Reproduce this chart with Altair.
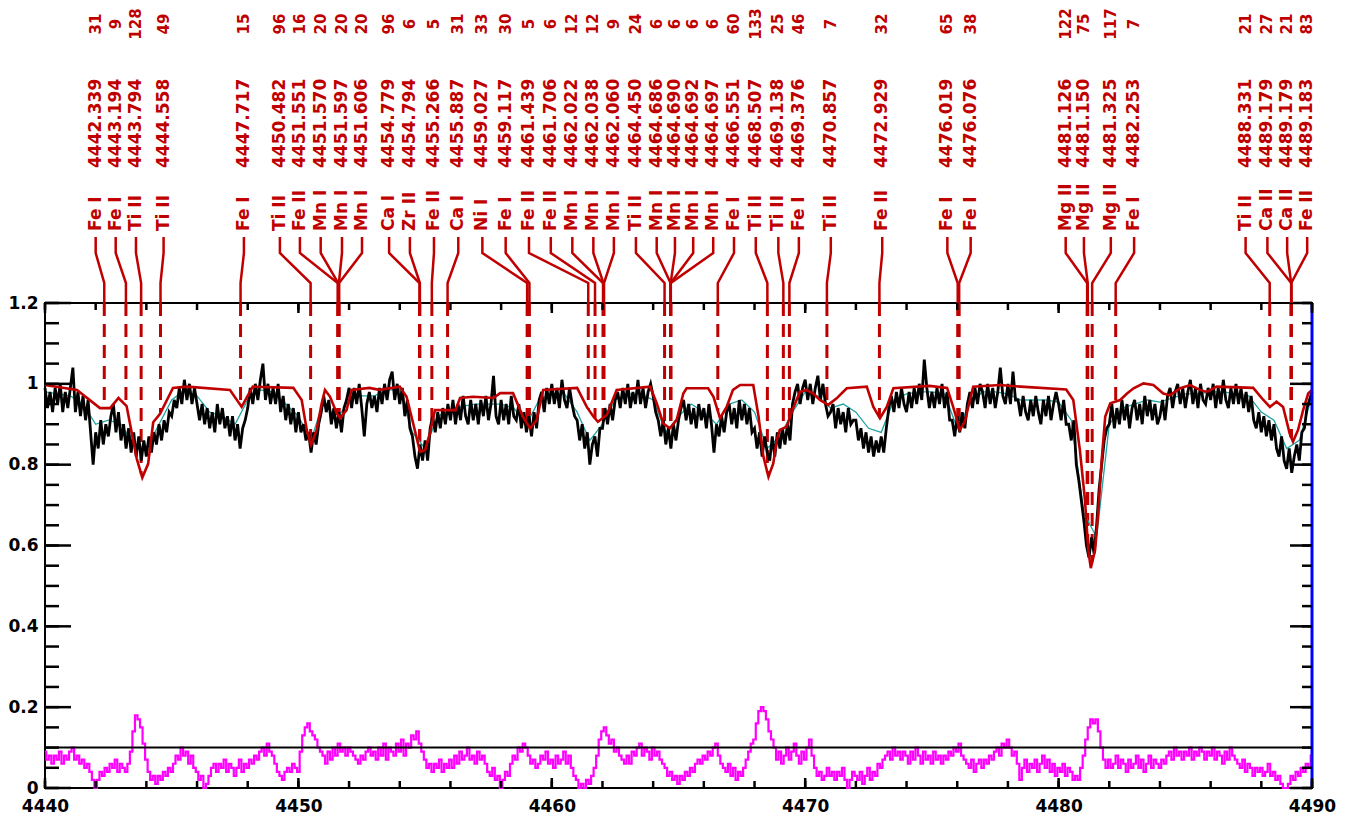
import altair as alt
import pandas as pd
import numpy as np

RED = "#c00000"
LAM0 = 4440.0
STEP = 0.1

# observed spectrum, 0.1 A sampling (4440.0 ... 4490.0)
obs = [
 0.99,0.94,0.98,0.93,0.99,0.95,1.00,0.93,0.98,0.94,
 0.99,1.04,0.93,0.98,0.92,0.97,0.91,0.96,0.88,0.80,
 0.88,0.84,0.91,0.85,0.90,0.87,0.92,0.95,0.88,0.93,
 0.86,0.90,0.84,0.89,0.83,0.88,0.82,0.87,0.81,0.86,
 0.82,0.87,0.83,0.88,0.85,0.90,0.86,0.91,0.88,0.93,
 0.92,0.96,0.94,0.99,0.95,1.01,0.96,1.00,0.95,0.99,
 0.95,0.91,0.95,0.90,0.94,0.89,0.93,0.88,0.95,0.90,
 0.94,0.89,0.92,0.87,0.92,0.86,0.90,0.84,0.89,0.91,
 0.94,0.99,0.95,1.00,0.96,1.01,1.05,0.96,1.00,0.95,
 0.99,0.95,1.00,0.93,0.97,0.91,0.95,0.90,0.94,0.88,
 0.93,0.88,0.90,0.86,0.88,0.83,0.88,0.85,0.90,0.93,
 0.97,0.93,0.96,0.90,0.94,0.89,0.93,0.88,0.94,0.96,
 0.99,0.94,0.99,0.95,1.00,0.94,0.87,0.95,0.98,0.94,
 0.97,0.93,0.99,0.95,1.00,0.96,1.01,1.03,0.96,1.00,
 0.95,0.99,0.92,0.96,0.89,0.87,0.82,0.79,0.85,0.81,
 0.86,0.81,0.89,0.92,0.88,0.93,0.89,0.94,0.90,0.95,
 0.91,0.96,0.90,0.95,0.91,0.97,0.92,0.90,0.96,0.91,
 0.95,0.90,0.96,0.92,0.97,0.91,0.95,1.02,0.92,0.90,
 0.96,0.91,0.95,0.90,0.97,0.92,0.91,0.95,0.89,0.93,
 0.88,0.92,0.87,0.93,0.89,0.96,0.98,0.93,0.99,0.95,
 1.00,0.95,0.99,0.94,1.01,0.96,0.94,0.99,0.95,0.92,
 0.91,0.86,0.90,0.84,0.88,0.80,0.85,0.87,0.82,0.89,
 0.89,0.94,0.90,0.95,0.91,0.96,0.98,0.94,0.99,0.95,
 1.00,0.94,0.98,0.95,1.01,0.95,0.99,0.94,0.98,1.00,
 0.97,0.93,0.91,0.87,0.91,0.85,0.89,0.84,0.90,0.86,
 0.91,0.94,0.96,0.91,0.95,0.90,0.94,0.89,0.95,0.91,
 0.94,0.89,0.95,0.90,0.83,0.90,0.87,0.92,0.88,0.93,
 0.95,0.90,0.94,0.89,0.96,0.91,0.95,0.90,0.94,0.88,
 0.89,0.84,0.88,0.82,0.87,0.83,0.81,0.87,0.82,0.88,
 0.84,0.89,0.85,0.90,0.86,0.95,0.98,1.00,0.95,0.99,
 1.01,0.96,1.00,0.95,0.99,1.02,0.96,1.00,0.95,0.92,
 0.93,0.95,0.89,0.94,0.90,0.93,0.88,0.94,0.90,0.91,
 0.91,0.86,0.89,0.84,0.88,0.83,0.87,0.82,0.86,0.83,
 0.87,0.83,0.89,0.94,0.97,0.93,0.98,0.94,0.99,0.95,
 0.93,0.98,0.94,0.99,0.95,1.00,0.96,1.06,0.99,0.94,
 0.98,0.94,0.99,0.95,1.00,0.94,0.98,0.91,0.91,0.87,
 0.92,0.88,0.93,0.89,0.95,0.98,0.94,0.99,0.95,1.00,
 0.98,0.94,1.00,0.95,0.99,0.94,0.98,1.04,0.97,0.95,
 1.00,0.95,1.03,0.96,0.96,0.92,0.97,0.93,0.91,0.96,
 0.92,0.97,0.93,0.90,0.96,0.92,0.97,0.91,0.95,0.98,
 0.95,0.91,0.96,0.90,0.90,0.86,0.91,0.80,0.76,0.71,
 0.66,0.60,0.57,0.62,0.58,0.65,0.74,0.80,0.86,0.89,
 0.90,0.95,0.89,0.94,0.90,0.96,0.91,0.95,0.89,0.94,
 0.96,0.91,0.95,0.90,0.97,0.92,0.96,0.91,0.95,0.90,
 0.92,0.96,0.91,0.97,0.99,0.94,0.98,1.00,0.95,0.99,
 0.94,0.98,1.01,0.95,0.99,0.94,1.00,0.96,0.95,0.99,
 0.96,1.00,0.94,0.99,0.95,1.01,0.96,0.94,0.99,0.95,
 1.00,0.95,0.99,0.94,0.98,0.93,0.97,0.91,0.89,0.93,
 0.88,0.92,0.87,0.91,0.86,0.90,0.84,0.82,0.87,0.81,
 0.79,0.84,0.78,0.82,0.85,0.81,0.88,0.89,0.94,0.96,
 0.98,
]

# residual (magenta), same sampling
resid = [
 0.09,0.07,0.08,0.06,0.08,0.07,0.09,0.06,0.08,0.07,
 0.09,0.10,0.07,0.08,0.06,0.07,0.05,0.06,0.04,0.02,
 0.00,0.02,0.04,0.03,0.05,0.04,0.06,0.05,0.07,0.04,
 0.06,0.05,0.04,0.06,0.09,0.14,0.18,0.17,0.15,0.11,
 0.07,0.04,0.02,0.03,0.01,0.03,0.02,0.04,0.03,0.05,
 0.04,0.06,0.08,0.07,0.10,0.08,0.09,0.06,0.08,0.05,
 0.04,0.02,0.03,0.00,0.01,0.03,0.05,0.06,0.04,0.06,
 0.05,0.07,0.04,0.06,0.05,0.03,0.05,0.07,0.04,0.06,
 0.05,0.07,0.06,0.08,0.07,0.09,0.10,0.08,0.11,0.09,
 0.08,0.06,0.04,0.03,0.02,0.04,0.05,0.04,0.06,0.05,
 0.04,0.09,0.13,0.15,0.16,0.14,0.13,0.12,0.10,0.09,
 0.08,0.06,0.09,0.07,0.10,0.08,0.11,0.09,0.10,0.08,
 0.10,0.09,0.08,0.07,0.06,0.08,0.07,0.09,0.10,0.08,
 0.09,0.07,0.10,0.08,0.11,0.07,0.10,0.09,0.08,0.11,
 0.09,0.12,0.08,0.11,0.10,0.13,0.12,0.14,0.11,0.09,
 0.07,0.05,0.06,0.04,0.06,0.05,0.07,0.04,0.06,0.05,
 0.07,0.05,0.08,0.06,0.09,0.07,0.08,0.10,0.07,0.08,
 0.06,0.09,0.07,0.08,0.06,0.04,0.03,0.05,0.02,0.03,
 0.00,0.02,0.04,0.03,0.06,0.08,0.07,0.10,0.09,0.11,
 0.10,0.08,0.06,0.07,0.05,0.06,0.08,0.07,0.09,0.06,
 0.07,0.05,0.08,0.06,0.07,0.09,0.06,0.08,0.05,0.03,
 0.02,0.00,0.01,0.00,0.02,0.01,0.03,0.05,0.08,0.12,
 0.14,0.15,0.13,0.11,0.12,0.09,0.10,0.08,0.07,0.06,
 0.08,0.06,0.09,0.08,0.10,0.11,0.08,0.10,0.09,0.07,
 0.10,0.08,0.09,0.07,0.06,0.05,0.03,0.04,0.02,0.03,
 0.01,0.03,0.02,0.04,0.03,0.05,0.04,0.06,0.07,0.06,
 0.08,0.07,0.09,0.08,0.10,0.11,0.08,0.06,0.05,0.04,
 0.06,0.03,0.05,0.02,0.04,0.03,0.05,0.07,0.09,0.11,
 0.12,0.16,0.19,0.20,0.19,0.17,0.14,0.12,0.10,0.07,
 0.09,0.06,0.08,0.10,0.07,0.09,0.11,0.08,0.06,0.09,
 0.07,0.10,0.12,0.08,0.05,0.03,0.04,0.02,0.03,0.05,
 0.03,0.04,0.02,0.04,0.03,0.05,0.02,0.00,0.02,0.04,
 0.03,0.02,0.04,0.01,0.03,0.05,0.02,0.04,0.03,0.06,
 0.05,0.07,0.08,0.09,0.07,0.10,0.08,0.09,0.07,0.09,
 0.08,0.06,0.09,0.07,0.10,0.08,0.06,0.09,0.07,0.08,
 0.06,0.09,0.07,0.08,0.06,0.08,0.07,0.09,0.08,0.10,
 0.09,0.11,0.08,0.07,0.06,0.05,0.07,0.04,0.06,0.07,
 0.05,0.07,0.06,0.08,0.07,0.09,0.10,0.08,0.11,0.10,
 0.12,0.10,0.08,0.09,0.06,0.02,0.05,0.07,0.04,0.06,
 0.05,0.07,0.04,0.06,0.08,0.05,0.07,0.04,0.06,0.03,
 0.05,0.04,0.06,0.03,0.05,0.04,0.02,0.03,0.02,0.05,
 0.08,0.12,0.15,0.17,0.16,0.17,0.14,0.10,0.07,0.05,
 0.07,0.05,0.06,0.08,0.05,0.07,0.06,0.04,0.07,0.05,
 0.06,0.08,0.05,0.07,0.04,0.06,0.08,0.05,0.07,0.06,
 0.05,0.07,0.06,0.08,0.09,0.07,0.10,0.08,0.09,0.07,
 0.09,0.08,0.10,0.07,0.09,0.08,0.10,0.09,0.07,0.09,
 0.08,0.10,0.07,0.09,0.08,0.06,0.09,0.07,0.10,0.08,
 0.07,0.06,0.05,0.07,0.04,0.06,0.05,0.03,0.05,0.04,
 0.05,0.03,0.04,0.06,0.03,0.04,0.02,0.03,0.01,0.00,
 0.00,0.01,0.03,0.02,0.04,0.03,0.05,0.04,0.06,0.05,
 0.08,
]

# second (cyan) fit, 0.5 A sampling
cyan = [
 0.98,0.975,0.97,0.95,0.90,0.91,0.90,0.85,0.84,0.90,
 0.96,0.985,0.97,0.93,0.92,0.90,0.96,0.985,0.98,0.95,
 0.92,0.86,0.96,0.91,0.96,0.97,0.97,0.985,0.985,0.88,
 0.84,0.92,0.935,0.945,0.95,0.95,0.95,0.94,0.90,0.96,
 0.975,0.975,0.93,0.86,0.90,0.96,0.975,0.975,0.96,0.88,
 0.92,0.95,0.93,0.90,0.95,0.96,0.93,0.84,0.87,0.93,
 0.98,0.97,0.94,0.95,0.93,0.89,0.88,0.96,0.975,0.98,
 0.98,0.975,0.89,0.95,0.98,0.98,0.975,0.96,0.96,0.96,
 0.955,0.91,0.68,0.62,0.90,0.94,0.95,0.96,0.955,0.965,
 0.975,0.975,0.98,0.98,0.975,0.97,0.93,0.91,0.84,0.86,
 0.97,
]

# synthetic (red) model, vertices
model_wl = [4440.0,4441.26,4442.17,4442.57,4442.9,4443.22,4443.62,4443.84,4444.07,4444.27,
 4444.54,4445.05,4445.6,4447.3,4447.76,4448.2,4449.8,4450.13,4450.33,4450.5,
 4450.72,4450.92,4451.05,4451.25,4451.51,4451.64,4451.9,4452.1,4452.8,4453.2,
 4454.0,4454.27,4454.53,4454.8,4455.0,4455.19,4455.39,4456.2,4456.38,4456.9,
 4457.7,4457.96,4458.47,4458.86,4459.14,4459.4,4459.66,4461.0,4461.38,4461.64,
 4461.82,4462.17,4462.56,4463.88,4464.14,4464.4,4464.66,4464.93,4465.19,4465.32,
 4466.17,4466.38,4466.64,4466.9,4467.15,4467.43,4467.95,4468.16,4468.35,4468.55,
 4468.74,4468.88,4469.0,4469.27,4469.47,4469.79,4470.05,4470.32,4470.58,4470.91,
 4471.24,4471.64,4472.43,4472.69,4472.95,4473.22,4473.48,4474.9,4475.6,4475.84,
 4476.1,4476.3,4476.5,4476.63,4477.69,4478.5,4480.3,4480.58,4480.84,4481.04,
 4481.17,4481.27,4481.44,4481.57,4481.7,4481.84,4482.04,4482.43,4482.7,4482.96,
 4483.35,4483.74,4484.13,4484.4,4484.8,4485.19,4485.58,4485.84,4486.24,4487.68,
 4488.08,4488.34,4488.6,4488.86,4489.12,4489.25,4489.45,4489.65,4489.85,4490.0]
model_flux = [0.997,0.985,0.94,0.94,0.965,0.945,0.815,0.768,0.802,0.905,
 0.926,0.99,0.993,0.985,0.943,0.993,0.99,0.96,0.886,0.849,
 0.886,0.952,0.985,0.968,0.928,0.915,0.935,0.985,0.99,0.985,
 0.993,0.968,0.902,0.832,0.836,0.878,0.935,0.935,0.965,0.968,
 0.965,0.977,0.977,0.919,0.89,0.91,0.985,0.99,0.943,0.919,
 0.906,0.923,0.985,0.993,0.952,0.902,0.89,0.911,0.976,0.989,
 0.989,0.968,0.915,0.943,0.985,0.997,0.997,0.919,0.82,0.77,
 0.803,0.861,0.886,0.894,0.931,0.98,0.985,0.976,0.96,0.948,
 0.964,0.989,0.993,0.943,0.915,0.943,0.989,0.995,0.99,0.943,
 0.886,0.906,0.96,0.993,0.997,0.993,0.986,0.96,0.836,0.713,
 0.589,0.544,0.589,0.688,0.811,0.919,0.952,0.96,0.976,0.989,
 1.001,0.997,0.976,0.972,0.989,0.997,0.985,0.98,0.993,0.99,
 0.96,0.943,0.956,0.943,0.877,0.857,0.886,0.935,0.976,0.985]

# line identifications
species = ["Fe I","Fe I","Ti II","Ti II","Fe I","Ti II","Fe II","Mn I","Mn I","Mn I",
 "Ca I","Zr II","Fe II","Ca I","Ni I","Fe I","Fe II","Fe II","Mn I","Mn I","Mn I",
 "Ti II","Mn I","Mn I","Mn I","Mn I","Fe I","Ti II","Ti II","Fe I","Ti II","Fe II",
 "Fe I","Fe I","Mg II","Mg II","Mg II","Fe I","Ti II","Ca II","Ca II","Fe II"]
wl_labels = ["4442.339","4443.194","4443.794","4444.558","4447.717","4450.482","4451.551",
 "4451.570","4451.597","4451.606","4454.779","4454.794","4455.266","4455.887","4459.027",
 "4459.117","4461.439","4461.706","4462.022","4462.038","4462.060","4464.450","4464.686",
 "4464.690","4464.692","4464.697","4466.551","4468.507","4469.138","4469.376","4470.857",
 "4472.929","4476.019","4476.076","4481.126","4481.150","4481.325","4482.253","4488.331",
 "4489.179","4489.179","4489.183"]
strength = ["31","9","128","49","15","96","16","20","20","20","96","6","5","31","33","30",
 "5","6","12","12","9","24","6","6","6","6","60","133","25","46","7","32","65","38",
 "122","75","117","7","21","27","21","83"]
label_pos = [4442.00,4442.79,4443.59,4444.68,4447.85,4449.27,4450.06,4450.88,4451.72,4452.51,
 4453.58,4454.40,4455.35,4456.31,4457.26,4458.18,4459.10,4459.96,4460.81,4461.64,4462.45,
 4463.32,4464.14,4464.86,4465.58,4466.37,4467.19,4468.05,4468.94,4469.75,4471.01,4473.04,
 4475.61,4476.53,4480.28,4481.00,4482.06,4482.98,4487.38,4488.24,4489.02,4489.81]

x_label_vals = [4440, 4450, 4460, 4470, 4480, 4490]
y_label_vals = [0, 0.2, 0.4, 0.6, 0.8, 1, 1.2]

W, H = 1267, 485

def above(px):
    return 1.2 + px * 1.2 / H

xs = alt.Scale(domain=[4440, 4490], nice=False, zero=False)
ys = alt.Scale(domain=[0, 1.2], nice=False, zero=False)
xaxis = alt.Axis(values=x_label_vals, format="d", title=None, labelFlush=False,
                 labelPadding=10, orient="bottom")
yaxis = alt.Axis(values=y_label_vals, format="~g", title=None, labelPadding=7, orient="left")

def X(f):
    return alt.X(f, type="quantitative", scale=xs, axis=xaxis)

def Y(f):
    return alt.Y(f, type="quantitative", scale=ys, axis=yaxis)

obs_df = pd.DataFrame({"lam": np.round(LAM0 + STEP * np.arange(len(obs)), 2), "flux": obs})
res_df = pd.DataFrame({"lam": np.round(LAM0 + STEP * np.arange(len(resid)), 2), "flux": resid})
cy_df = pd.DataFrame({"lam": np.round(LAM0 + 0.5 * np.arange(len(cyan)), 2), "flux": cyan})
mod_df = pd.DataFrame({"lam": model_wl, "flux": model_flux})

line_lam = [float(s) for s in wl_labels]
dash_df = pd.DataFrame({"lam": line_lam, "top": 1.2,
                        "bot": np.interp(line_lam, model_wl, model_flux)})
lab_df = pd.DataFrame({"pos": label_pos, "sp": species, "wl": wl_labels, "n": strength})

conn_rows = []
for i, (p, l) in enumerate(zip(label_pos, line_lam)):
    conn_rows += [
        {"id": i, "o": 0, "x": p, "y": above(66)},
        {"id": i, "o": 1, "x": p, "y": above(50)},
        {"id": i, "o": 2, "x": l, "y": above(20)},
        {"id": i, "o": 3, "x": l, "y": 1.2},
    ]
conn_df = pd.DataFrame(conn_rows)

dashes = alt.Chart(dash_df).mark_rule(color=RED, strokeWidth=3, strokeDash=[13, 8]).encode(
    x=X("lam"), y=Y("top"), y2="bot")
cyan_l = alt.Chart(cy_df).mark_line(color="#1fa3a3", strokeWidth=1.3).encode(x=X("lam"), y=Y("flux"))
obs_l = alt.Chart(obs_df).mark_line(color="black", strokeWidth=2.8).encode(
    x=X("lam"), y=Y("flux"))
mod_l = alt.Chart(mod_df).mark_line(color=RED, strokeWidth=2.6).encode(x=X("lam"), y=Y("flux"))
res_l = alt.Chart(res_df).mark_line(color="#ff00ff", strokeWidth=2.2, interpolate="step").encode(
    x=X("lam"), y=Y("flux"))

ref_df = pd.DataFrame({"y": [0.1]})
ref_l = alt.Chart(ref_df).mark_rule(color="black", strokeWidth=2).encode(y=Y("y"))
blue_df = pd.DataFrame({"x": [4490], "y": [0], "y2": [1.2]})
blue_l = alt.Chart(blue_df).mark_rule(color="#0000ff", strokeWidth=3).encode(x=X("x"), y=Y("y"), y2="y2")

# tick marks (inward)
y_minor = pd.DataFrame({"v": np.round(np.arange(0, 1.2001, 0.05), 2)})
y_major = pd.DataFrame({"v": y_label_vals})
x_minor = pd.DataFrame({"v": np.arange(4440, 4491, 2)})
x_major = pd.DataFrame({"v": x_label_vals})
tk = dict(color="black", strokeWidth=2.5)
ticks = [
    alt.Chart(y_minor).mark_rule(**tk).encode(y=Y("v"), x=alt.value(0), x2=alt.value(14)),
    alt.Chart(y_major).mark_rule(**tk).encode(y=Y("v"), x=alt.value(0), x2=alt.value(26)),
    alt.Chart(y_minor).mark_rule(**tk).encode(y=Y("v"), x=alt.value(W), x2=alt.value(W - 10)),
    alt.Chart(y_major).mark_rule(**tk).encode(y=Y("v"), x=alt.value(W), x2=alt.value(W - 22)),
    alt.Chart(x_minor).mark_rule(**tk).encode(x=X("v"), y=alt.value(H), y2=alt.value(H - 7)),
    alt.Chart(x_major).mark_rule(**tk).encode(x=X("v"), y=alt.value(H), y2=alt.value(H - 10)),
    alt.Chart(x_minor).mark_rule(**tk).encode(x=X("v"), y=alt.value(0), y2=alt.value(7)),
    alt.Chart(x_major).mark_rule(**tk).encode(x=X("v"), y=alt.value(0), y2=alt.value(10)),
]

conn = alt.Chart(conn_df).mark_line(color=RED, strokeWidth=2.5).encode(
    x=X("x"), y=Y("y"), detail="id:N", order="o:Q")

tfont = dict(font="DejaVu Sans", fontWeight="bold", color=RED, angle=270, baseline="middle")
sp_t = alt.Chart(lab_df).mark_text(align="left", fontSize=17, **tfont).encode(
    x=X("pos"), y=alt.value(-72), text="sp:N")
wl_t = alt.Chart(lab_df).mark_text(align="left", fontSize=17, **tfont).encode(
    x=X("pos"), y=alt.value(-135), text="wl:N")
n_t = alt.Chart(lab_df).mark_text(align="center", fontSize=15, **tfont).encode(
    x=X("pos"), y=alt.value(-279), text="n:N")

chart = alt.layer(
    dashes, cyan_l, obs_l, mod_l, res_l, ref_l, blue_l, *ticks, conn, sp_t, wl_t, n_t
).properties(
    width=W, height=H,
    padding={"left": 37, "top": 295, "right": 37, "bottom": 27},
    autosize=alt.AutoSizeParams(type="none"),
    background="white",
).configure_view(
    stroke="black", strokeWidth=2
).configure_axis(
    grid=False, domain=False, ticks=False, tickSize=0,
    labelFont="DejaVu Sans", labelFontWeight="bold", labelFontSize=17, labelColor="black",
)

chart.save("out.html", embed_options={"renderer": "svg", "actions": False})
